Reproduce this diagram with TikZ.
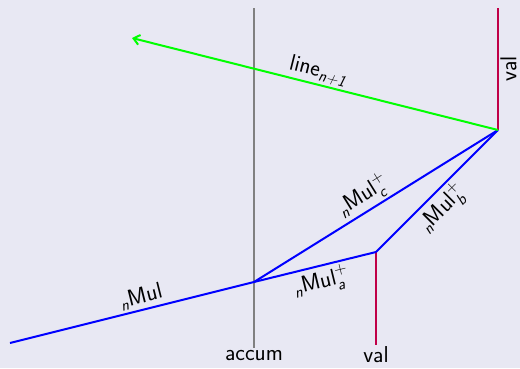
\documentclass[tikz,border=0pt]{standalone}
\usepackage{amsmath}
\usetikzlibrary{arrows.meta}
\definecolor{bg}{RGB}{232,232,243}
\definecolor{valc}{RGB}{192,0,72}
\newcommand{\si}[1]{\text{\sffamily\itshape #1}}
\newcommand{\sm}{\text{\sffamily Mul}}
\begin{document}
\begin{tikzpicture}[x=1pt,y=-1pt,
  every node/.style={font=\sffamily\fontsize{23}{27}\selectfont, text=black, inner sep=2pt},
  wire/.style={line width=2pt},
  bl/.style={wire, blue},
  ]
\fill[bg] (0,0) rectangle (520,368);
\useasboundingbox (0,0) rectangle (520,368);
\coordinate (acTop) at (254,8);
\coordinate (acBot) at (254,348);
\coordinate (start) at (10,343);
\coordinate (acc) at (254,282);
\coordinate (v1) at (376,252);
\coordinate (v1Bot) at (376,345);
\coordinate (v2) at (498,130);
\coordinate (v2Top) at (498,8);
\coordinate (tip) at (132,38);
\draw[wire, gray] (acTop) -- (acBot) node[below, inner sep=1pt] (accl) {accum};
\draw[wire, valc] (v1) -- (v1Bot) node[below, inner sep=1pt] (vl1) {val};
\draw[wire, valc] (v2) -- node[rotate=90, anchor=north, inner sep=1.5pt] (vl2) {val} (v2Top);
\draw[bl] (start) -- node[pos=0.55, above, sloped] (l1) {$_{\si{n}}\sm$} (acc);
\draw[bl] (acc) -- node[pos=0.52, below, sloped] (l2) {$_{\si{n}}\sm^{+}_{\si{a}}$} (v1);
\draw[bl] (v1) -- node[pos=0.45, below, sloped] (l3) {$_{\si{n}}\sm^{+}_{\si{b}}$} (v2);
\draw[bl] (acc) -- node[pos=0.48, above, sloped] (l4) {$_{\si{n}}\sm^{+}_{\si{c}}$} (v2);
\draw[wire, green, -{Straight Barb[length=6pt,width=10pt]}] (v2) -- node[pos=0.5, above, sloped] (l5) {line$_{\si{n+1}}$} (tip);
\end{tikzpicture}
\end{document}
